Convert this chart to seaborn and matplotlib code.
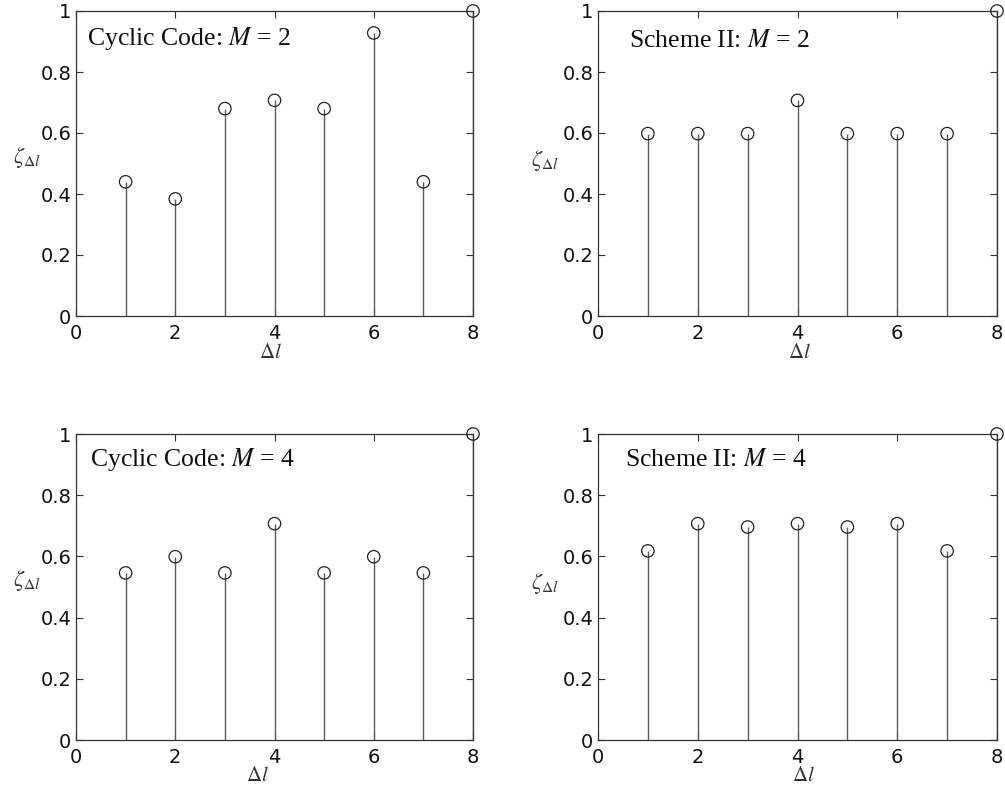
import numpy as np
import pandas as pd
import matplotlib
matplotlib.use("Agg")
import matplotlib.pyplot as plt
import seaborn as sns

# Normalised correlation values per shift Δl
shifts = [1, 2, 3, 4, 5, 6, 7, 8]
cyclic_m2 = [0.440, 0.384, 0.680, 0.707, 0.680, 0.928, 0.440, 1.0]
scheme2_m2 = [0.598, 0.598, 0.598, 0.707, 0.598, 0.598, 0.598, 1.0]
cyclic_m4 = [0.546, 0.599, 0.546, 0.707, 0.546, 0.599, 0.546, 1.0]
scheme2_m4 = [0.618, 0.707, 0.696, 0.707, 0.696, 0.707, 0.618, 1.0]

x_ticks = [0, 2, 4, 6, 8]
y_ticks = [0, 0.2, 0.4, 0.6, 0.8, 1]
y_tick_labels = ["0", "0.2", "0.4", "0.6", "0.8", "1"]

panels = [
    ("Cyclic Code: ", "2", cyclic_m2),
    ("Scheme II: ", "2", scheme2_m2),
    ("Cyclic Code: ", "4", cyclic_m4),
    ("Scheme II: ", "4", scheme2_m4),
]

sns.set_style("ticks")
plt.rcParams["mathtext.fontset"] = "stix"

fig = plt.figure(figsize=(10.05, 7.85), dpi=100)
W, H = 1005, 785
boxes = [
    (76, 11, 473, 316),
    (598, 11, 997, 316),
    (76, 434, 473, 740),
    (598, 434, 997, 740),
]
# annotation anchor (axes fraction), x-label and y-label positions (axes fraction)
text_pos = [(0.028, 0.889), (0.078, 0.882), (0.035, 0.895), (0.068, 0.895)]
xlabel_pos = [(0.489, -0.086), (0.506, -0.086), (0.456, -0.082), (0.514, -0.082)]
ylabel_pos = [(-0.123, 0.52), (-0.133, 0.51), (-0.123, 0.52), (-0.133, 0.51)]

for i, ((prefix, m, vals), (l, t, r, b)) in enumerate(zip(panels, boxes)):
    ax = fig.add_axes([l / W, 1 - b / H, (r - l) / W, (b - t) / H])
    df = pd.DataFrame({"dl": shifts, "zeta": vals})
    ax.vlines(df["dl"], 0, df["zeta"], colors="#5a5a5a", linewidth=1.0, zorder=2)
    sns.scatterplot(data=df, x="dl", y="zeta", ax=ax, marker="o", s=80,
                    facecolor="none", edgecolor="#222222", linewidth=0.9,
                    clip_on=False, zorder=3, legend=False)
    ax.set_xlim(0, 8)
    ax.set_ylim(0, 1)
    ax.set_xticks(x_ticks)
    ax.set_xticklabels([str(v) for v in x_ticks], family="DejaVu Sans", fontsize=14)
    ax.set_yticks(y_ticks)
    ax.set_yticklabels(y_tick_labels, family="DejaVu Sans", fontsize=14)
    ax.tick_params(direction="in", length=5, width=0.8, top=True, right=True,
                   colors="#333333", labelcolor="#111111")
    ax.tick_params(axis="x", pad=6)
    ax.tick_params(axis="y", pad=3.5)
    for s in ax.spines.values():
        s.set_linewidth(0.9)
        s.set_color("#333333")
    ax.set_xlabel(r"$\Delta l$", fontsize=15, color="#333333")
    ax.xaxis.set_label_coords(*xlabel_pos[i])
    ax.set_ylabel(r"$\zeta_{\Delta l}$", fontsize=16, rotation=0, color="#333333",
                  va="center", ha="center")
    ax.yaxis.set_label_coords(*ylabel_pos[i])
    tx, ty = text_pos[i]
    ax.text(tx, ty, prefix + "$M$ = " + m, family="Liberation Serif",
            fontsize=18.5, ha="left", va="baseline", transform=ax.transAxes,
            color="#111111")

fig.savefig("out.png", dpi=100)
